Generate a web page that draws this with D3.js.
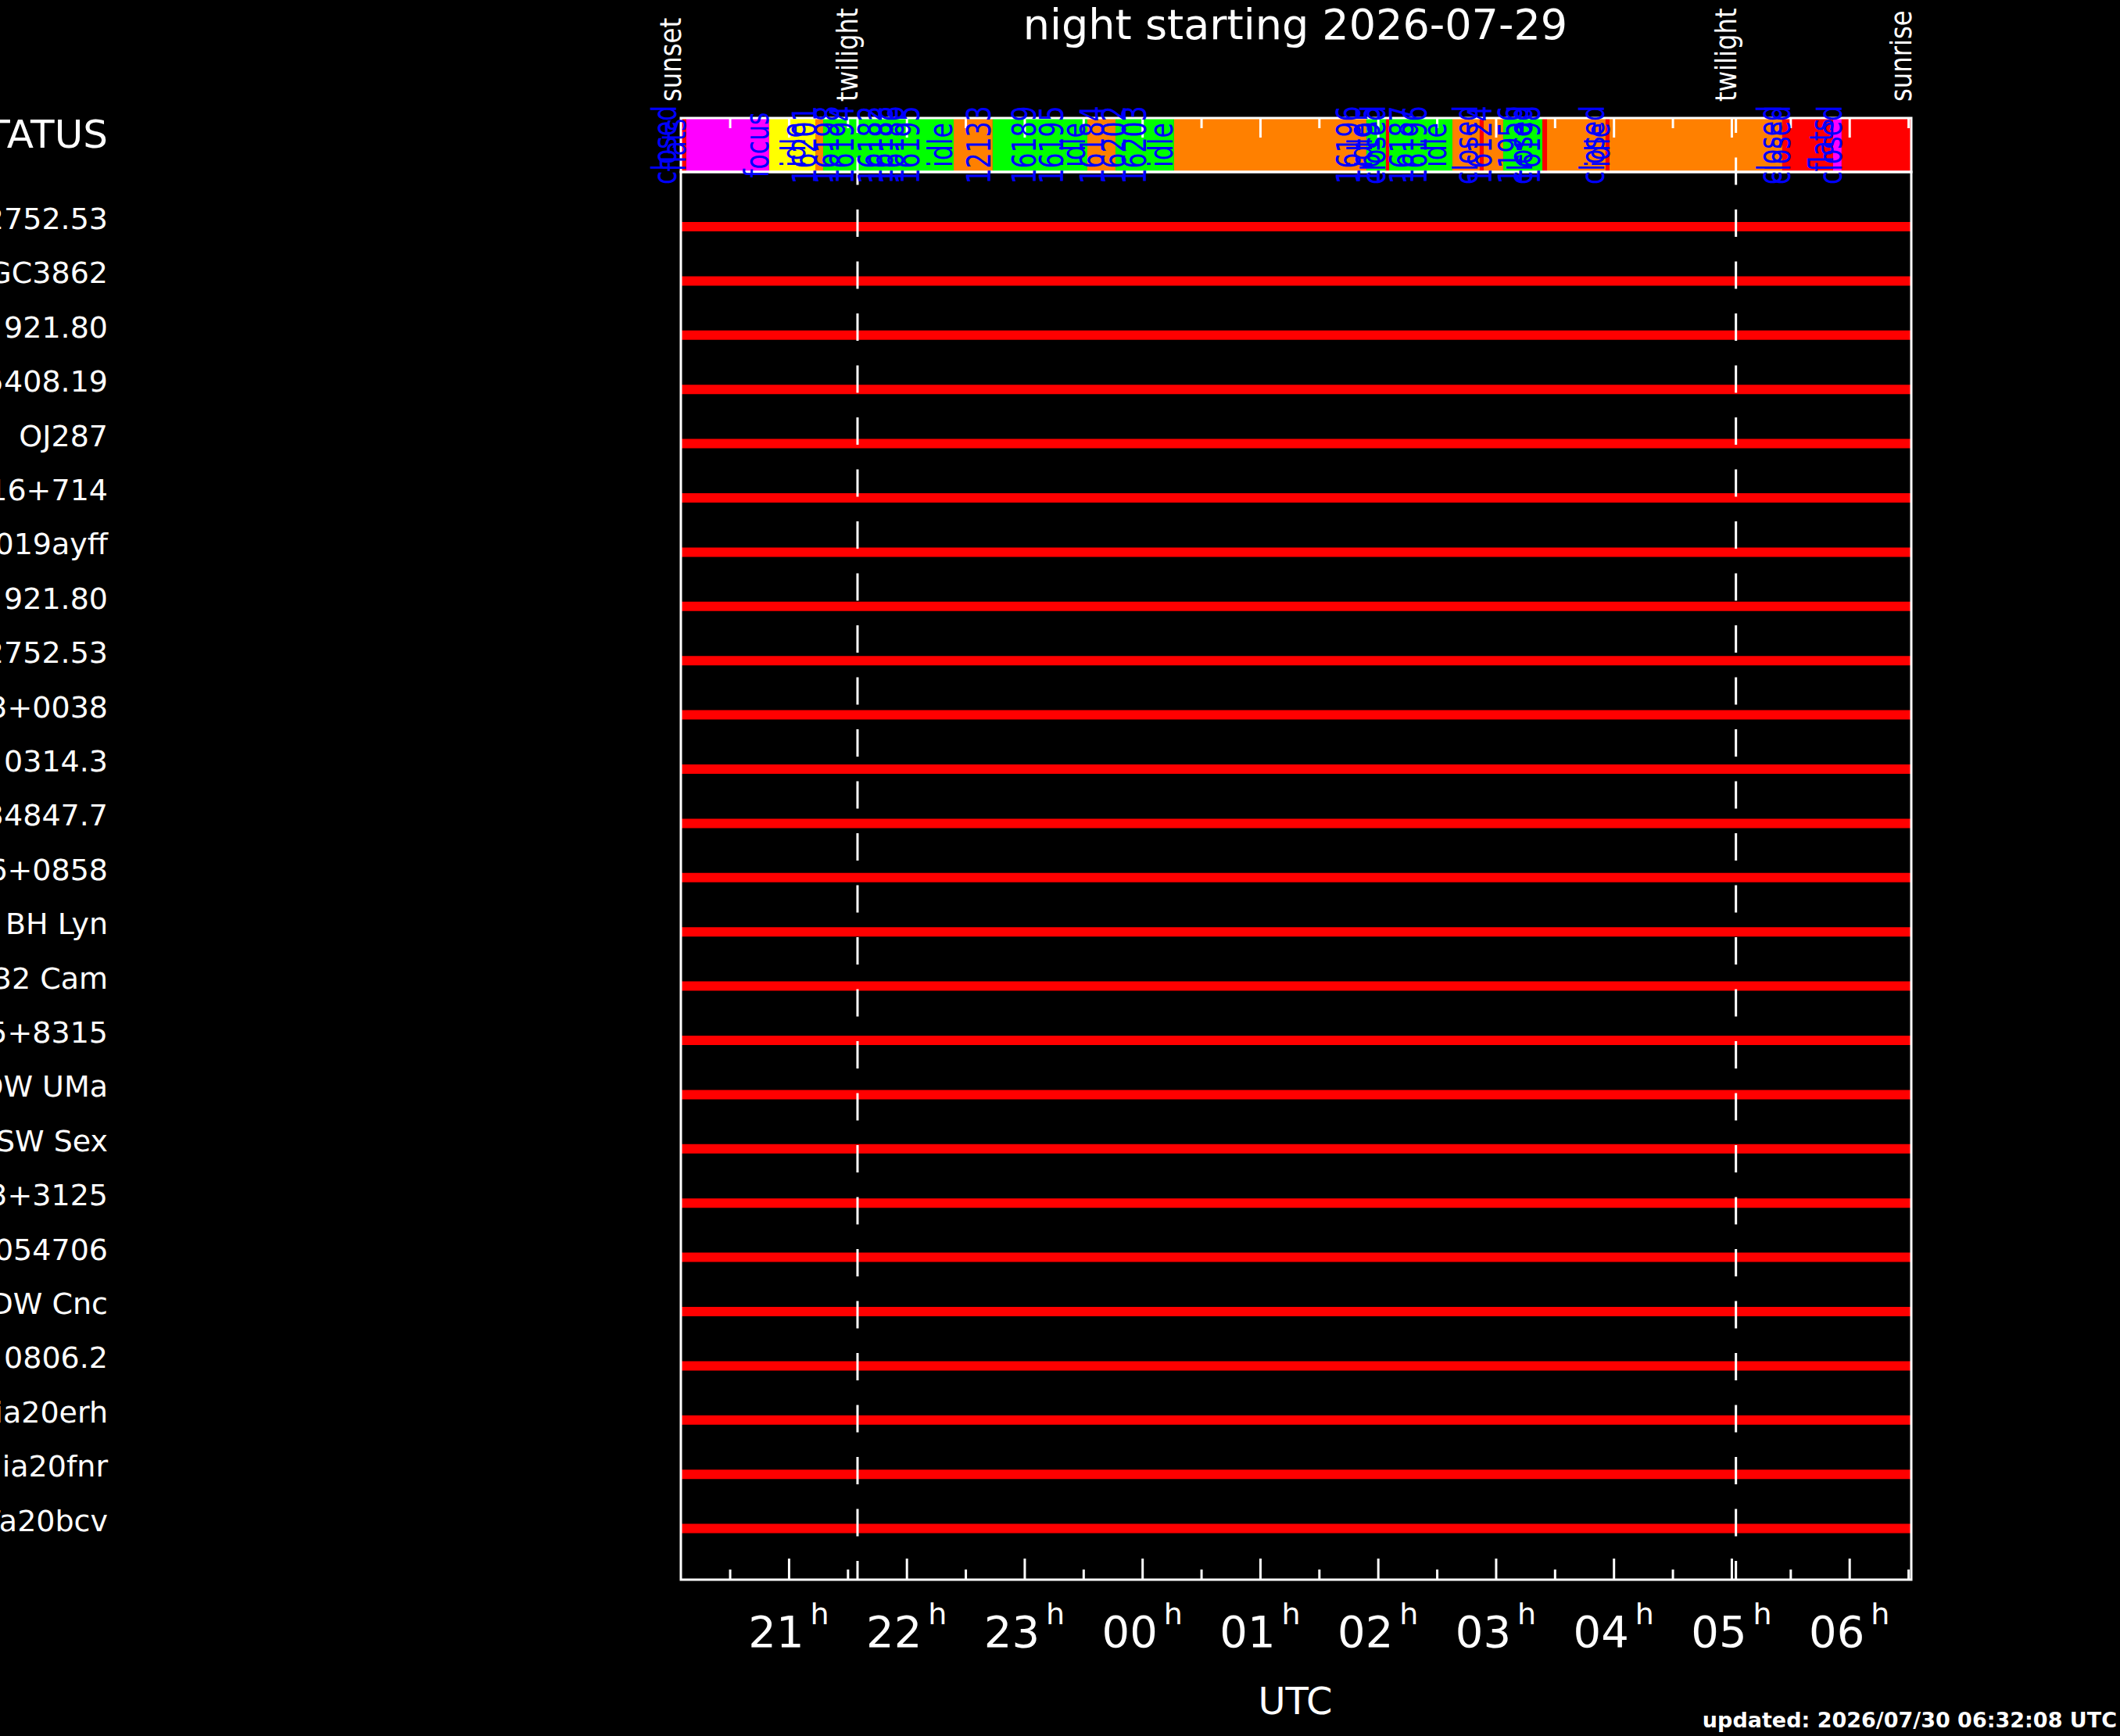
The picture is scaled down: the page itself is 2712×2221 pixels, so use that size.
<!DOCTYPE html>
<html lang="en">
<head>
  <meta charset="UTF-8">
  <title>night starting 2026-07-29</title>
  <style>
    body {
      margin: 0;
      background: #000;
    }
    svg {
      display: block;
      font-family: "DejaVu Sans", sans-serif;
    }
  </style>
</head>
<body>
  <svg id="chart" width="2712" height="2221"></svg>

  <script src="https://d3js.org/d3.v7.min.js"></script>
  <script>
    // hours after midnight of 2026-07-29 (UTC), so 25 = 01h next morning
    const nightStart = 20.085;
    const nightEnd = 30.526;

    const hourTicks = [21, 22, 23, 24, 25, 26, 27, 28, 29, 30];
    const hourLabels = ["21", "22", "23", "00", "01", "02", "03", "04", "05", "06"];
    const halfTicks = [20.5, 21.5, 22.5, 23.5, 24.5, 25.5, 26.5, 27.5, 28.5, 29.5, 30.5];

    const eventTimes = [20.085, 21.584, 29.038, 30.526];
    const eventNames = ["sunset", "twilight", "twilight", "sunrise"];
    const twilightTimes = [21.584, 29.038];

    // telescope status bar
    const segStart = [20.05, 20.131, 20.834, 21.226, 21.292, 22.40, 22.731, 23.534, 23.773, 24.270,
      25.902, 26.068, 26.095, 26.632, 26.864, 26.897, 27.063, 27.395, 27.435, 27.932,
      27.965, 29.431, 29.862, 29.935];
    const segState = ["closed", "flats", "focus", "idle", "observing", "idle", "observing", "idle", "observing", "idle",
      "observing", "closed", "observing", "idle", "closed", "idle", "observing", "closed", "idle", "closed",
      "idle", "closed", "flats", "closed"];

    const logTimes = [20.045, 20.125, 20.828, 21.140, 21.233, 21.425, 21.551, 21.790, 21.883, 21.975,
      22.108, 22.386, 22.711, 23.096, 23.328, 23.514, 23.673, 23.859, 24.030, 24.257,
      25.849, 25.948, 26.015, 26.061, 26.300, 26.413, 26.579, 26.844, 26.964, 27.222,
      27.308, 27.375, 27.919, 27.965, 29.424, 29.500, 29.862, 29.935];
    const logTexts = ["closed", "flats", "focus", "idle", "16201", "16198", "16194", "16182", "16183", "16186",
      "16195", "idle", "12133", "16189", "16195", "idle", "16184", "16202", "16203", "idle",
      "16196", "idle", "16195", "closed", "16187", "16196", "idle", "closed", "16124", "11956",
      "closed", "16198", "closed", "idle", "closed", "closed", "flats", "closed"];

    // targets and the part of the night each one is up
    const targetNames = ["SDSS J012752.53", "NGC3862", "TON 921.80", "J065408.19", "OJ287",
      "S5 0716+714", "AT2019ayff", "TON 921.80", "SDSS J012752.53", "J1413+0038",
      "RX 0314.3", "J034847.7", "J0816+0858", "BH Lyn", "V432 Cam",
      "J0015+8315", "DW UMa", "SW Sex", "J0813+3125", "J1000054706",
      "DW Cnc", "RX 0806.2", "Gaia20erh", "Gaia20fnr", "ZTFa20bcv"];
    const visStart = [20.085, 20.085, 20.085, 20.085, 20.085, 20.085, 20.085, 20.085, 20.085, 20.085,
      20.085, 20.085, 20.085, 20.085, 20.085, 20.085, 20.085, 20.085, 20.085, 20.085,
      20.085, 20.085, 20.085, 20.085, 20.085];
    const visEnd = [30.526, 30.526, 30.526, 30.526, 30.526, 30.526, 30.526, 30.526, 30.526, 30.526,
      30.526, 30.526, 30.526, 30.526, 30.526, 30.526, 30.526, 30.526, 30.526, 30.526,
      30.526, 30.526, 30.526, 30.526, 30.526];

    const svg = d3.select("#chart");

    const left = 871, right = 2445;
    const barTop = 151, barBottom = 220, plotBottom = 2021;

    const x = d3.scaleLinear().domain([nightStart, nightEnd]).range([left, right]);
    const y = d3.scaleLinear().domain([0, targetNames.length - 1]).range([290, 1955.6]);
    const stateColor = d3.scaleOrdinal()
      .domain(["closed", "flats", "focus", "idle", "observing"])
      .range(["#ff0000", "#ff00ff", "#ffff00", "#ff8000", "#00ff00"]);

    // status bar segments
    const segs = segStart.map((s, i) => ({
      start: Math.max(s, nightStart),
      end: i < segStart.length - 1 ? segStart[i + 1] : nightEnd,
      state: segState[i]
    }));

    svg.append("g").selectAll("rect")
      .data(segs)
      .join("rect")
      .attr("x", d => x(d.start))
      .attr("y", barTop)
      .attr("width", d => x(d.end) - x(d.start))
      .attr("height", barBottom - barTop)
      .attr("fill", d => stateColor(d.state));

    // visibility lines
    svg.append("g").selectAll("line")
      .data(targetNames)
      .join("line")
      .attr("x1", (d, i) => x(visStart[i]))
      .attr("x2", (d, i) => x(visEnd[i]))
      .attr("y1", (d, i) => y(i))
      .attr("y2", (d, i) => y(i))
      .attr("stroke", "#ff0000")
      .attr("stroke-width", 12);

    // frames
    svg.append("rect")
      .attr("x", left).attr("y", barTop)
      .attr("width", right - left).attr("height", barBottom - barTop)
      .attr("fill", "none").attr("stroke", "#fff").attr("stroke-width", 3);
    svg.append("rect")
      .attr("x", left).attr("y", barBottom)
      .attr("width", right - left).attr("height", plotBottom - barBottom)
      .attr("fill", "none").attr("stroke", "#fff").attr("stroke-width", 3);

    // ticks: top of status bar pointing down, bottom of plot pointing up
    function tickAxis(axis, yPos, values, size) {
      const g = svg.append("g")
        .attr("transform", `translate(0,${yPos})`)
        .call(axis(x).tickValues(values).tickSize(size).tickFormat(""));
      g.select(".domain").remove();
      g.selectAll("line").attr("stroke", "#fff").attr("stroke-width", 3);
    }
    tickAxis(d3.axisTop, barTop, hourTicks, -25);
    tickAxis(d3.axisTop, barTop, halfTicks, -13);
    tickAxis(d3.axisBottom, plotBottom, hourTicks, -27);
    tickAxis(d3.axisBottom, plotBottom, halfTicks, -13);

    // twilight lines
    svg.append("g").selectAll("line")
      .data(twilightTimes)
      .join("line")
      .attr("x1", d => x(d)).attr("x2", d => x(d))
      .attr("y1", barTop).attr("y2", plotBottom)
      .attr("stroke", "#fff")
      .attr("stroke-width", 3)
      .attr("stroke-dasharray", "35,31.5")
      .attr("stroke-dashoffset", 16);

    // hour labels with superscript h
    const hl = svg.append("g").selectAll("text")
      .data(hourTicks)
      .join("text")
      .attr("x", d => x(d))
      .attr("y", 2107)
      .attr("text-anchor", "middle")
      .attr("fill", "#fff");
    hl.append("tspan").attr("font-size", 56).text((d, i) => hourLabels[i]);
    hl.append("tspan").attr("font-size", 38).attr("dy", -29).attr("dx", 8).text("h");

    svg.append("text")
      .attr("x", 1657).attr("y", 2193)
      .attr("text-anchor", "middle")
      .attr("font-size", 48)
      .attr("fill", "#fff")
      .text("UTC");

    svg.append("text")
      .attr("x", 1657).attr("y", 50)
      .attr("text-anchor", "middle")
      .attr("font-size", 54)
      .attr("fill", "#fff")
      .text("night starting 2026-07-29");

    svg.append("text")
      .attr("x", 2708).attr("y", 2210)
      .attr("text-anchor", "end")
      .attr("font-size", 27)
      .attr("font-weight", "bold")
      .attr("fill", "#fff")
      .text("updated: 2026/07/30 06:32:08 UTC");

    // sunset / twilight / sunrise
    svg.append("g").selectAll("text")
      .data(eventTimes)
      .join("text")
      .attr("transform", d => `translate(${x(d)},130) rotate(-90) scale(0.85,1)`)
      .attr("font-size", 38)
      .attr("fill", "#fff")
      .text((d, i) => eventNames[i]);

    // log entries on the status bar
    svg.append("g").selectAll("text")
      .data(logTimes)
      .join("text")
      .attr("transform", d => `translate(${x(d)},${(barTop + barBottom) / 2}) rotate(-90) scale(0.75,1)`)
      .attr("text-anchor", "middle")
      .attr("font-size", 42)
      .attr("fill", "#0000ff")
      .text((d, i) => logTexts[i]);

    // row labels
    svg.append("text")
      .attr("x", 138).attr("y", 189)
      .attr("text-anchor", "end")
      .attr("font-size", 50)
      .attr("fill", "#fff")
      .text("STATUS");

    svg.append("g").selectAll("text")
      .data(targetNames)
      .join("text")
      .attr("x", 138)
      .attr("y", (d, i) => y(i) + 3)
      .attr("text-anchor", "end")
      .attr("font-size", 38)
      .attr("fill", "#fff")
      .text(d => d);
  </script>
</body>
</html>
